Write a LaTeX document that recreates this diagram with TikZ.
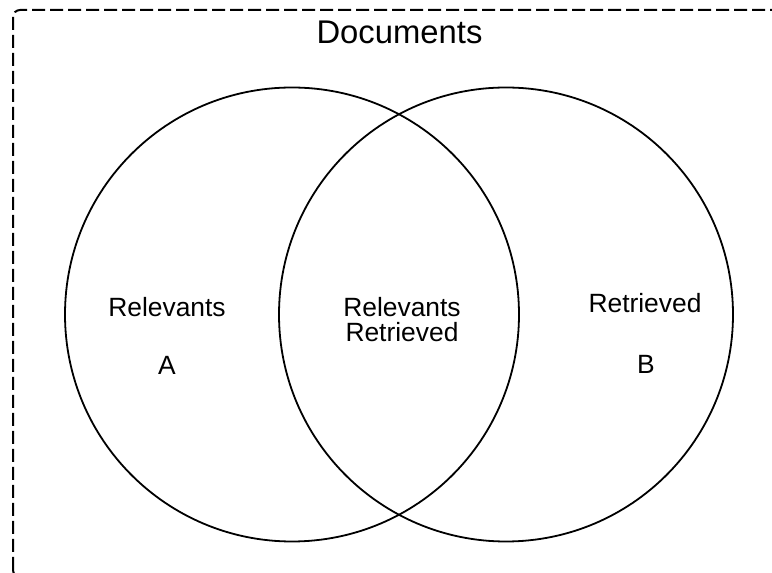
\documentclass[tikz,border=0pt]{standalone}
\usepackage{fontspec}
\setmainfont{Liberation Sans}
\begin{document}
\begin{tikzpicture}[x=1pt,y=1pt,
  setcircle/.style={draw=black,line width=1.8pt,circle,minimum size=454pt,inner sep=0pt},
  lbl/.style={font=\fontsize{26.4}{26}\selectfont,anchor=base,inner sep=0pt},
  frame/.style={draw=black,line width=2pt,dash pattern=on 13pt off 5pt,rounded corners=7pt}]
  \useasboundingbox (0,0) rectangle (772,573);
  \clip (0,0) rectangle (772,573);
  % outer document frame (extends past the right and bottom edges)
  \draw[frame] (13,-4) rectangle (790,563);
  \node[font=\fontsize{32.8}{33}\selectfont,anchor=base,inner sep=0pt] (docs) at (399.5,529) {Documents};
  % the two sets
  \node[setcircle] (relA) at (292,258.5) {};
  \node[setcircle] (retB) at (506,258.5) {};
  % labels
  \node[lbl] (rel) at (167,256) {Relevants};
  \node[lbl] (a) at (167,198) {A};
  \node[lbl] (both1) at (402,256) {Relevants};
  \node[lbl] (both2) at (402,231) {Retrieved};
  \node[lbl] (ret) at (645,260) {Retrieved};
  \node[lbl] (b) at (646,199) {B};
\end{tikzpicture}
\end{document}
